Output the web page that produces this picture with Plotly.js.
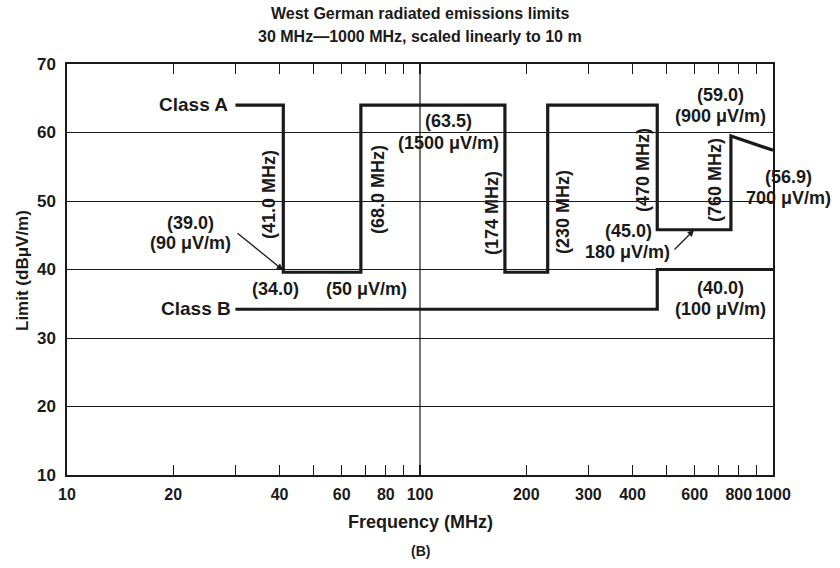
<!DOCTYPE html>
<html>
<head>
<meta charset="utf-8">
<script src="https://cdn.plot.ly/plotly-3.0.1.min.js"></script>
<style>html,body{margin:0;padding:0;background:#fff;}#chart{width:840px;height:568px;}</style>
</head>
<body>
<div id="chart"></div>
<script>
// ---- data ----
const classAFreq  = [30, 41, 41, 68, 68, 174, 174, 230, 230, 470, 470, 760, 760, 1000];
const classALimit = [64, 64, 39.6, 39.6, 64, 64, 39.6, 39.6, 64, 64, 45.8, 45.8, 59.5, 57.4];
const classBFreq  = [30, 470, 470, 1000];
const classBLimit = [34.2, 34.2, 40, 40];
const gridFreq    = [100, 100];
const gridLimit   = [10, 70];
const xTickVals   = [10, 20, 30, 40, 50, 60, 70, 80, 90, 100, 200, 300, 400, 500, 600, 700, 800, 900, 1000];
const xTickText   = ['10', '20', '', '40', '', '60', '', '80', '', '100', '200', '300', '400', '', '600', '', '800', '', '1000'];
const yTickVals   = [10, 20, 30, 40, 50, 60, 70];

// ---- layout helpers (pixel -> paper) ----
const L = 67, R = 773, T = 64, B = 475;
const W = 840, H = 568;
const px = x => (x - L) / (R - L);
const py = y => (B - y) / (B - T);
const FONT = 'Liberation Sans, Arial, sans-serif';
const INK = '#1a1a1a';

function txt(text, x, y, size, opts) {
  return Object.assign({
    text: '<b>' + text + '</b>', xref: 'paper', yref: 'paper', x: px(x), y: py(y),
    xanchor: 'center', yanchor: 'middle', showarrow: false,
    font: {family: FONT, size: size || 18, color: INK}
  }, opts || {});
}
function arrow(hx, hy, tx, ty) {
  return {
    text: '', xref: 'paper', yref: 'paper', x: px(hx), y: py(hy),
    ax: tx - hx, ay: ty - hy, showarrow: true, arrowhead: 2, arrowsize: 1,
    arrowwidth: 1.3, arrowcolor: INK, standoff: 0
  };
}

const annotations = [
  txt('West German radiated emissions limits', 420, 13, 16),
  txt('30 MHz\u20141000 MHz, scaled linearly to 10 m', 420, 36, 16),
  txt('Frequency (MHz)', 420, 522, 18),
  txt('(B)', 420, 551, 14),
  txt('Limit (dB\u03bcV/m)', 22, 271, 17, {textangle: -90}),

  txt('Class A', 193, 104, 19),
  txt('Class B', 196, 308, 19),

  txt('(41.0 MHz)', 269, 195, 18, {textangle: -90}),
  txt('(68.0 MHz)', 378, 190, 18, {textangle: -90}),
  txt('(174 MHz)', 492, 213, 18, {textangle: -90}),
  txt('(230 MHz)', 563, 212, 18, {textangle: -90}),
  txt('(470 MHz)', 643, 170, 18, {textangle: -90}),
  txt('(760 MHz)', 715, 180, 18, {textangle: -90}),

  txt('(39.0)', 190, 223),
  txt('(90 \u03bcV/m)', 190, 243),
  arrow(283, 270, 236, 232),
  txt('(34.0)', 275, 289),
  txt('(50 \u03bcV/m)', 366, 289),

  txt('(63.5)', 448, 121),
  txt('(1500 \u03bcV/m)', 448, 143),

  txt('(45.0)', 628, 231),
  txt('180 \u03bcV/m)', 627, 252),
  arrow(694, 230, 673, 251),

  txt('(59.0)', 720, 95),
  txt('(900 \u03bcV/m)', 720, 116),

  txt('(56.9)', 788, 177),
  txt('700 \u03bcV/m)', 788, 198),

  txt('(40.0)', 720, 288),
  txt('(100 \u03bcV/m)', 720, 309)
];

const traces = [
  {x: gridFreq, y: gridLimit, mode: 'lines', line: {color: INK, width: 1.2}, hoverinfo: 'skip', showlegend: false},
  {x: classBFreq, y: classBLimit, mode: 'lines', name: 'Class B', line: {color: INK, width: 3.2}, showlegend: false},
  {x: classAFreq, y: classALimit, mode: 'lines', name: 'Class A', line: {color: INK, width: 3.2}, showlegend: false}
];

const layout = {
  width: W, height: H,
  margin: {l: L, r: W - R, t: T, b: H - B, pad: 0},
  paper_bgcolor: '#fff', plot_bgcolor: '#fff',
  showlegend: false,
  font: {family: FONT, color: INK, size: 17},
  xaxis: {
    type: 'log', range: [1, 3], tickmode: 'array', tickvals: xTickVals, ticktext: xTickText,
    tickangle: 0,
    ticks: 'inside', ticklen: 10, tickwidth: 1.2, tickcolor: INK,
    showgrid: false, zeroline: false,
    showline: true, linecolor: INK, linewidth: 1.6, mirror: 'ticks',
    tickfont: {family: FONT, size: 16, color: INK, weight: 'bold'}, ticklabelstandoff: 4
  },
  yaxis: {
    range: [10, 70], tickmode: 'array', tickvals: yTickVals,
    ticks: '', showgrid: true, gridcolor: INK, gridwidth: 1, zeroline: false,
    showline: true, linecolor: INK, linewidth: 1.6, mirror: true,
    tickfont: {family: FONT, size: 17, color: INK, weight: 'bold'}, ticklabelstandoff: 6
  },
  annotations: annotations
};

Plotly.newPlot('chart', traces, layout, {staticPlot: true, displayModeBar: false});
</script>
</body>
</html>
